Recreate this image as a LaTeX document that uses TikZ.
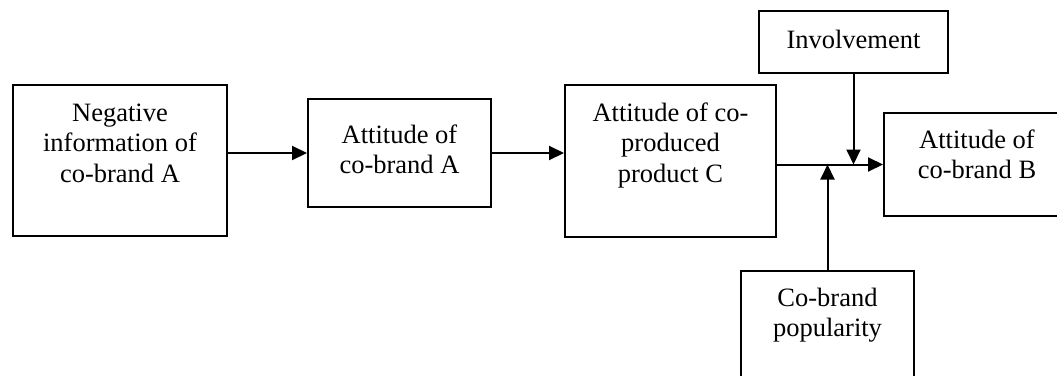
\documentclass[tikz,border=0pt]{standalone}
\usepackage{fontspec}
\setmainfont{Liberation Serif}
\usetikzlibrary{arrows.meta}
\newcommand{\boxtxt}[4]{\parbox[c][#2pt][t]{#1pt}{\centering\rule{0pt}{#3pt}#4}}
\tikzset{
  cbox/.style={draw, line width=2pt, inner sep=0pt, anchor=north west,
    font=\fontsize{26.5pt}{30.5pt}\selectfont},
  arr/.style={-{Triangle[length=15pt,width=14pt]}, line width=2pt}
}
\begin{document}
\begin{tikzpicture}[x=1pt,y=-1pt]
\useasboundingbox (0,0) rectangle (1057,375);
\clip (0,0) rectangle (1057,375);
\node[cbox] (neg) at (12,84) {\boxtxt{214}{151}{36}{Negative\\information of\\co-brand A}};
\node[cbox] (attA) at (307,98) {\boxtxt{183}{108}{44}{Attitude of\\co-brand A}};
\node[cbox] (attC) at (564,84) {\boxtxt{211}{152}{36}{Attitude of co-\\produced\\product C}};
\node[cbox] (attB) at (883,112) {\boxtxt{186}{103}{35}{Attitude of\\co-brand B}};
\node[cbox] (inv) at (758,10) {\boxtxt{189}{62}{37}{Involvement}};
\node[cbox] (pop) at (740,270) {\boxtxt{173}{125}{35}{Co-brand\\popularity}};
\draw[arr] (neg.east |- attA.west) -- (attA.west);
\draw[arr] (attA.east) -- (attC.west |- attA.east);
\draw[arr] (attC.east |- attB.west) -- (attB.west);
\draw[arr] (inv.south) -- (inv.south |- attB.west);
\draw[arr] (pop.north) -- (pop.north |- attB.west);
\end{tikzpicture}
\end{document}
